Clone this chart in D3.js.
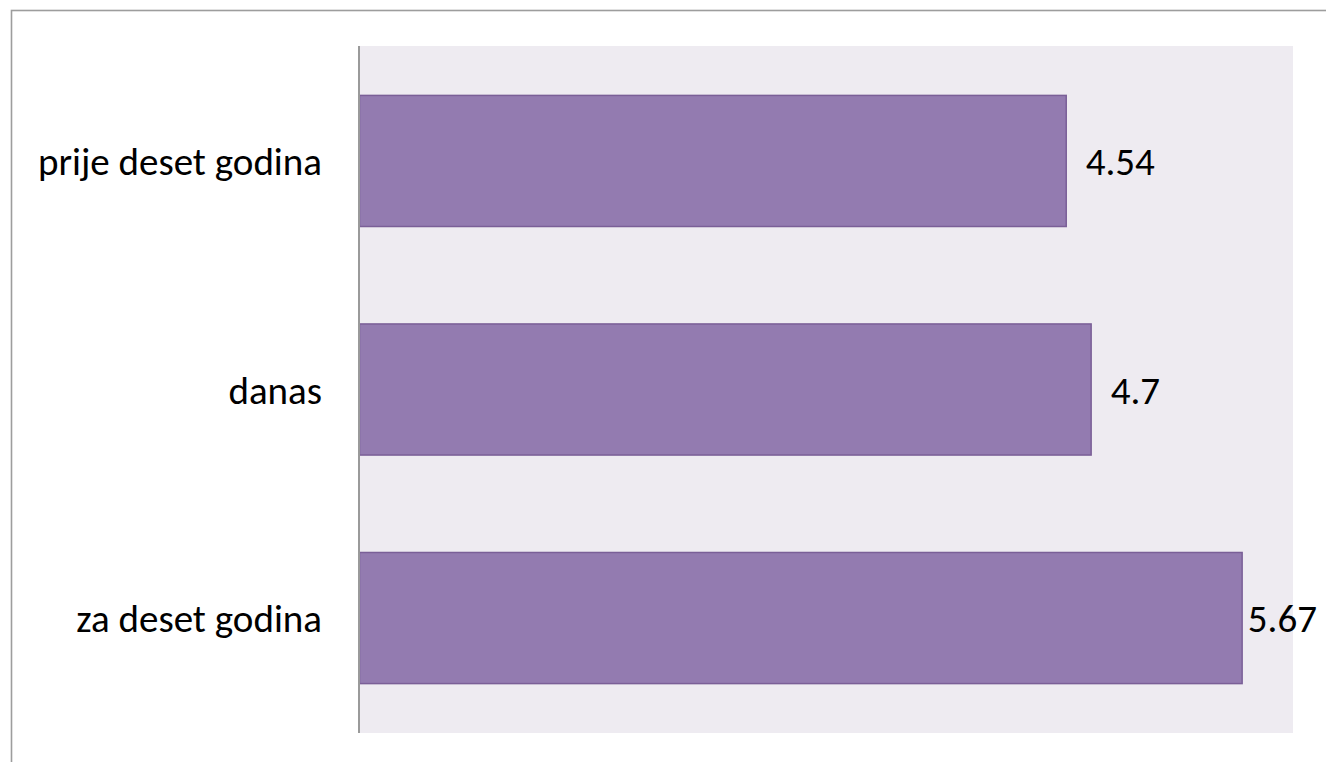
<!DOCTYPE html>
<html>
<head>
<meta charset="utf-8">
<script src="https://cdn.jsdelivr.net/npm/d3@7"></script>
<style>
  html, body { margin: 0; padding: 0; background: #fff; }
  svg { display: block; }
  text { font-family: Carlito, Calibri, Lato, sans-serif; fill: #000; }
</style>
</head>
<body>
<script>
const categories = ["prije deset godina", "danas", "za deset godina"];
const values = [4.54, 4.7, 5.67];
const valueLabels = ["4.54", "4.7", "5.67"];
const xDomain = [0, 6];

const W = 1326, H = 762;
const plot = { left: 359, right: 1293, top: 46, bottom: 733 };
const fontSize = 39;

const svg = d3.select("body").append("svg").attr("width", W).attr("height", H);

// outer chart border (extends beyond the canvas on the right and bottom)
svg.append("rect")
  .attr("x", 11.5).attr("y", 10.5)
  .attr("width", 1330).attr("height", 800)
  .attr("fill", "#fff").attr("stroke", "#9d9d9d").attr("stroke-width", 1.6);

// plot area
svg.append("rect")
  .attr("x", plot.left).attr("y", plot.top)
  .attr("width", plot.right - plot.left).attr("height", plot.bottom - plot.top)
  .attr("fill", "#eeebf1");

const x = d3.scaleLinear().domain(xDomain).range([plot.left, plot.right]);
const y = d3.scaleBand().domain(categories).range([plot.top, plot.bottom])
  .paddingInner(0.422).paddingOuter(0.214);

// bars
svg.append("g").selectAll("rect").data(values).join("rect")
  .attr("x", x(0) + 0.5)
  .attr("y", (d, i) => y(categories[i]) + 0.5)
  .attr("width", d => x(d) - x(0))
  .attr("height", y.bandwidth() - 1)
  .attr("fill", "#937bb0")
  .attr("stroke", "#7a5f97")
  .attr("stroke-width", 1.5);

// vertical axis line
svg.append("line")
  .attr("x1", x(0)).attr("x2", x(0))
  .attr("y1", plot.top).attr("y2", plot.bottom)
  .attr("stroke", "#9a9a9a").attr("stroke-width", 2);

// category labels
svg.append("g").selectAll("text").data(categories).join("text")
  .attr("x", x(0) - 37)
  .attr("y", d => y(d) + y.bandwidth() / 2 + 14)
  .attr("text-anchor", "end")
  .attr("font-size", fontSize)
  .text(d => d);

// value labels
const vl = svg.append("g").selectAll("text").data(values).join("text")
  .attr("y", (d, i) => y(categories[i]) + y.bandwidth() / 2 + 14)
  .attr("font-size", fontSize)
  .text((d, i) => valueLabels[i]);
vl.attr("x", function(d) {
  const w = this.getComputedTextLength();
  return Math.min(x(d) + 20, 1317 - w);
});
</script>
</body>
</html>
